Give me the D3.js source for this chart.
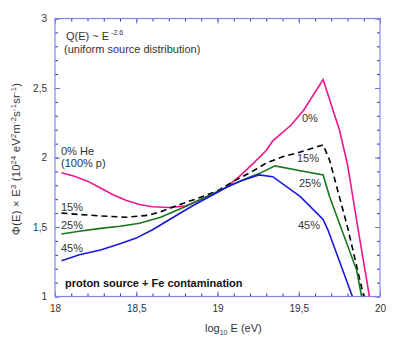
<!DOCTYPE html>
<html>
<head>
<meta charset="utf-8">
<script src="https://cdn.jsdelivr.net/npm/d3@7"></script>
<style>
    body{margin:0;background:#fff;}
    text{font-family:"Liberation Sans",Arial,Helvetica,sans-serif;fill:#333;}
</style>
</head>
<body>
<div id="chart"></div>
<script>
// tick values
var xMajor = [18, 18.5, 19, 19.5, 20];
var yMajor = [1, 1.5, 2, 2.5, 3];

// 0% He (100% p)
var e0 = [18.04, 18.12, 18.2, 18.28, 18.36, 18.44, 18.52, 18.6, 18.7, 18.8, 18.9, 19.0, 19.06, 19.14, 19.22, 19.30, 19.34, 19.45, 19.53, 19.65, 19.75, 19.80, 19.87, 19.935];
var v0 = [1.89, 1.865, 1.83, 1.78, 1.73, 1.69, 1.662, 1.646, 1.64, 1.65, 1.70, 1.75, 1.79, 1.87, 1.958, 2.05, 2.12, 2.23, 2.34, 2.56, 2.20, 1.95, 1.45, 1.0];
// 15%
var e15 = [18.04, 18.15, 18.28, 18.44, 18.58, 18.65, 18.8, 18.9, 19.0, 19.1, 19.2, 19.3, 19.4, 19.51, 19.65, 19.69, 19.8, 19.90];
var v15 = [1.60, 1.59, 1.58, 1.57, 1.585, 1.61, 1.675, 1.715, 1.76, 1.83, 1.89, 1.96, 2.005, 2.04, 2.09, 1.98, 1.50, 1.0];
// 25%
var e25 = [18.04, 18.15, 18.28, 18.4, 18.52, 18.65, 18.8, 18.9, 19.0, 19.1, 19.2, 19.26, 19.354, 19.51, 19.65, 19.69, 19.856, 19.887];
var v25 = [1.45, 1.47, 1.49, 1.505, 1.527, 1.57, 1.645, 1.70, 1.755, 1.81, 1.86, 1.886, 1.94, 1.905, 1.874, 1.718, 1.19, 1.0];
// 45%
var e45 = [18.04, 18.15, 18.28, 18.4, 18.5, 18.6, 18.7, 18.85, 19.0, 19.06, 19.15, 19.255, 19.34, 19.51, 19.65, 19.68, 19.83];
var v45 = [1.258, 1.30, 1.335, 1.38, 1.42, 1.48, 1.55, 1.655, 1.75, 1.79, 1.835, 1.875, 1.862, 1.718, 1.555, 1.478, 1.0];

(function(){

    var width = 399, height = 345;
    var margin = {top: 18.5, right: 19, bottom: 48.5, left: 55};
    var w = width - margin.left - margin.right,
        h = height - margin.top - margin.bottom;

    var svg = d3.select("#chart").append("svg")
        .attr("width", width)
        .attr("height", height);

    var g = svg.append("g")
        .attr("transform", "translate(" + margin.left + "," + margin.top + ")");

    var x = d3.scaleLinear().domain([18, 20]).range([0, w]);
    var y = d3.scaleLinear().domain([1, 3]).range([h, 0]);

    var comma = function(d){ return String(d).replace(".", ","); };

    function drawAxes(){
        var xMinor = d3.range(0, 21).map(function(i){ return 18 + i * 0.1; });
        var yMinor = d3.range(0, 21).map(function(i){ return 1 + i * 0.1; });

        //minor ticks, inward on all four sides
        var minorColor = "#2c2cd2", majorColor = "#6e6ee0";
        function style(sel, col){
            sel.select(".domain").remove();
            sel.selectAll("line").attr("stroke", col);
        }
        g.append("g").attr("transform", "translate(0," + h + ")")
            .call(d3.axisBottom(x).tickValues(xMinor).tickSize(-3).tickFormat(""))
            .call(style, minorColor);
        g.append("g")
            .call(d3.axisTop(x).tickValues(xMinor).tickSize(-3).tickFormat(""))
            .call(style, minorColor);
        g.append("g")
            .call(d3.axisLeft(y).tickValues(yMinor).tickSize(-3).tickFormat(""))
            .call(style, minorColor);
        g.append("g").attr("transform", "translate(" + w + ",0)")
            .call(d3.axisRight(y).tickValues(yMinor).tickSize(-3).tickFormat(""))
            .call(style, minorColor);

        //major ticks with labels
        var xb = g.append("g").attr("transform", "translate(0," + h + ")")
            .call(d3.axisBottom(x).tickValues(xMajor).tickSize(-5).tickPadding(8.5).tickFormat(comma))
            .call(style, majorColor);
        g.append("g")
            .call(d3.axisTop(x).tickValues(xMajor).tickSize(-5).tickFormat(""))
            .call(style, majorColor);
        var yl = g.append("g")
            .call(d3.axisLeft(y).tickValues(yMajor).tickSize(-5).tickPadding(8).tickFormat(comma))
            .call(style, majorColor);
        g.append("g").attr("transform", "translate(" + w + ",0)")
            .call(d3.axisRight(y).tickValues(yMajor).tickSize(-5).tickFormat(""))
            .call(style, majorColor);

        xb.selectAll("text").attr("font-size", 10).attr("font-family", null);
        yl.selectAll("text").attr("font-size", 10).attr("font-family", null);

        //frame
        g.append("rect")
            .attr("width", w).attr("height", h)
            .attr("fill", "none")
            .attr("stroke", "#8585e6")
            .attr("stroke-width", 1.2);
    }

    function drawLines(){
        g.append("clipPath").attr("id", "clip")
            .append("rect").attr("width", w).attr("height", h);

        var line = d3.line()
            .x(function(d){ return x(d[0]); })
            .y(function(d){ return y(d[1]); });

        var series = [
            {e: e0, v: v0, color: "#ee168c", dash: null},
            {e: e15, v: v15, color: "#000", dash: "6,4"},
            {e: e25, v: v25, color: "#17761a", dash: null},
            {e: e45, v: v45, color: "#1818dc", dash: null}
        ];
        series.forEach(function(s){
            g.append("path")
                .datum(d3.zip(s.e, s.v))
                .attr("clip-path", "url(#clip)")
                .attr("fill", "none")
                .attr("stroke", s.color)
                .attr("stroke-width", 1.6)
                .attr("stroke-dasharray", s.dash)
                .attr("d", line);
        });
    }

    function drawText(){
        //title with superscript
        var t = svg.append("text").attr("x", 66).attr("y", 40).attr("font-size", 11);
        t.append("tspan").text("Q(E) ~ E");
        t.append("tspan").attr("dy", -5).attr("dx", 2).attr("font-size", 7).text("-2.6");
        svg.append("text").attr("x", 64).attr("y", 53).attr("font-size", 11)
            .text("(uniform source distribution)");

        var labels = [
            ["0% He", 61, 155], ["(100% p)", 61, 167],
            ["15%", 61, 211], ["25%", 61, 229], ["45%", 61, 252],
            ["0%", 302, 122], ["15%", 297, 162], ["25%", 299, 187], ["45%", 298, 229]
        ];
        labels.forEach(function(l){
            svg.append("text").attr("x", l[1]).attr("y", l[2]).attr("font-size", 11).text(l[0]);
        });

        svg.append("text").attr("x", 65).attr("y", 287)
            .attr("font-size", 11).attr("font-weight", "bold").style("fill", "#111")
            .text("proton source + Fe contamination");

        //x axis label
        var xl = svg.append("text").attr("x", 205).attr("y", 332).attr("font-size", 11);
        xl.append("tspan").text("log");
        xl.append("tspan").attr("dy", 3).attr("font-size", 7).text("10");
        xl.append("tspan").attr("dy", -3).text(" E (eV)");

        //y axis label, rotated
        var yt = svg.append("text")
            .attr("transform", "translate(20,159) rotate(-90)")
            .attr("text-anchor", "middle")
            .attr("font-size", 11.2)
            .attr("letter-spacing", 0.25);
        var parts = [["Φ(E) × E", 0], ["3", 1], [" (10", 0], ["24", 1], [" eV", 0], ["2", 1],
                     ["m", 0], ["-2", 1], ["s", 0], ["-1", 1], ["sr", 0], ["-1", 1], [")", 0]];
        var up = false;
        parts.forEach(function(p){
            var ts = yt.append("tspan").text(p[0]);
            if (p[1] && !up){ ts.attr("dy", -4).attr("font-size", 7.5); up = true; }
            else if (p[1]){ ts.attr("font-size", 7.5); }
            else if (up){ ts.attr("dy", 4); up = false; }
        });
    }

    drawAxes();
    drawLines();
    drawText();
})();
</script>
</body>
</html>
